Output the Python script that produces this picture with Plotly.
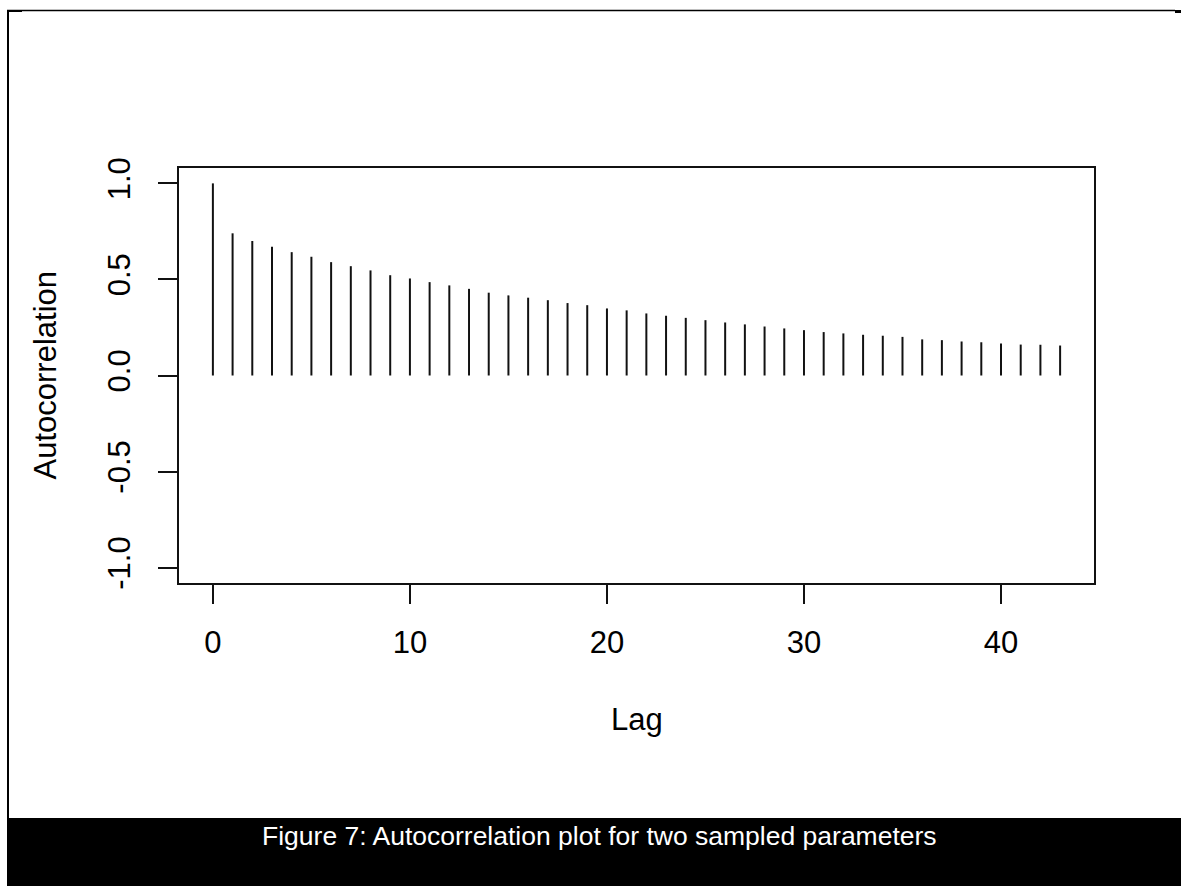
import plotly.graph_objects as go

# Autocorrelation by lag
lags = list(range(44))
acf = [1.0, 0.74, 0.70, 0.67, 0.642, 0.618, 0.590, 0.569, 0.547, 0.522,
       0.505, 0.486, 0.469, 0.451, 0.431, 0.417, 0.405, 0.392, 0.377, 0.366,
       0.349, 0.339, 0.323, 0.311, 0.300, 0.288, 0.276, 0.266, 0.255, 0.245,
       0.236, 0.226, 0.219, 0.212, 0.207, 0.201, 0.188, 0.184, 0.177, 0.173,
       0.167, 0.161, 0.160, 0.156]

x_ticks = [0, 10, 20, 30, 40]
x_tick_text = ["0", "10", "20", "30", "40"]
y_ticks = [-1.0, -0.5, 0.0, 0.5, 1.0]
y_tick_text = ["-1.0", "-0.5", "0.0", "0.5", "1.0"]

caption = "Figure 7: Autocorrelation plot for two sampled parameters"

W, H = 1181, 886
L, R, T, B = 179, 1094, 168, 583
FONT = "Liberation Sans, Arial, sans-serif"


def px_x(p):
    return (p - L) / (R - L)


def px_y(p):
    return (B - p) / (B - T)


# vertical spikes from 0 up to each autocorrelation value
xs, ys = [], []
for k, v in zip(lags, acf):
    xs += [k, k, None]
    ys += [0, v, None]

fig = go.Figure()
fig.add_trace(go.Scatter(x=xs, y=ys, mode="lines",
                         line=dict(color="#111111", width=2),
                         hoverinfo="skip", showlegend=False))

axis_common = dict(
    showgrid=False, zeroline=False,
    showline=True, mirror=True, linecolor="#111111", linewidth=2,
    ticks="outside", ticklen=19, tickwidth=1.5, tickcolor="#111111",
    tickfont=dict(family=FONT, size=31, color="black"),
)

fig.update_layout(
    width=W, height=H, autosize=False,
    margin=dict(l=L, r=W - R, t=T, b=H - B, pad=0),
    paper_bgcolor="white", plot_bgcolor="white",
    xaxis=dict(range=[-1.72, 44.72], tickmode="array",
               tickvals=x_ticks, ticktext=x_tick_text,
               ticklabelstandoff=12, **axis_common),
    yaxis=dict(range=[-1.08, 1.08], tickmode="array",
               tickvals=y_ticks, ticktext=y_tick_text,
               tickangle=-90, ticklabelstandoff=16, **axis_common),
    showlegend=False,
)

# axis titles
fig.add_annotation(text="Lag", xref="paper", yref="paper",
                   x=0.5, y=px_y(719), xanchor="center", yanchor="middle",
                   showarrow=False,
                   font=dict(family=FONT, size=31, color="black"))
fig.add_annotation(text="Autocorrelation", xref="paper", yref="paper",
                   x=px_x(45), y=0.5, xanchor="center", yanchor="middle",
                   textangle=-90, showarrow=False,
                   font=dict(family=FONT, size=31, color="black"))

# page frame and caption band
frame = dict(xref="paper", yref="paper", layer="above")
fig.add_shape(type="line", x0=px_x(7), x1=px_x(1175), y0=px_y(10.5), y1=px_y(10.5),
              line=dict(color="black", width=1.5), **frame)
fig.add_shape(type="line", x0=px_x(8), x1=px_x(8), y0=px_y(10), y1=px_y(818),
              line=dict(color="black", width=2), **frame)
fig.add_shape(type="rect", x0=px_x(7), x1=px_x(22), y0=px_y(10), y1=px_y(12),
              line=dict(width=0), fillcolor="black", **frame)
fig.add_shape(type="rect", x0=px_x(1175), x1=px_x(1181), y0=px_y(10), y1=px_y(13),
              line=dict(width=0), fillcolor="black", **frame)
fig.add_shape(type="rect", x0=px_x(7), x1=px_x(1181), y0=px_y(818), y1=px_y(886),
              line=dict(width=0), fillcolor="black", **frame)

fig.add_annotation(text=caption, xref="paper", yref="paper",
                   x=px_x(599), y=px_y(836), xanchor="center", yanchor="middle",
                   showarrow=False,
                   font=dict(family=FONT, size=26.5, color="white"))

fig.write_html("out.html")
